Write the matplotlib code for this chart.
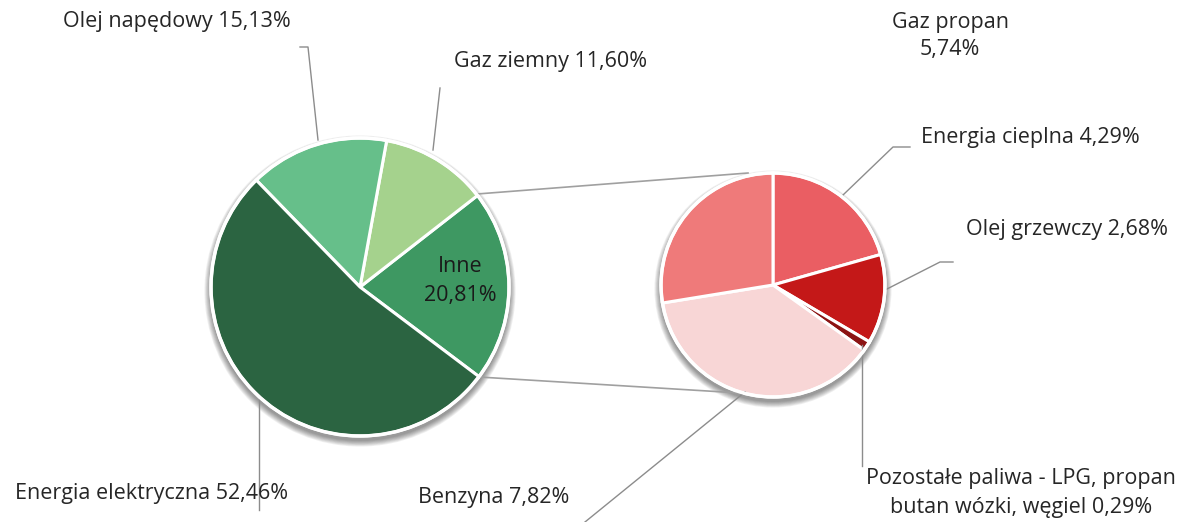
import matplotlib.pyplot as plt
from matplotlib.patches import Circle

# main pie
main_labels = ["Inne", "Gaz ziemny", "Olej napędowy", "Energia elektryczna"]
main_values = [20.81, 11.60, 15.13, 52.46]
main_colors = ["#3E9862", "#A5D28D", "#66BF8A", "#2B6441"]

# breakdown of "Inne"
sub_labels = ["Energia cieplna", "Olej grzewczy",
              "Pozostałe paliwa - LPG, propan\nbutan wózki, węgiel", "Benzyna", "Gaz propan"]
sub_values = [4.29, 2.68, 0.29, 7.82, 5.74]
sub_colors = ["#EA5E63", "#C41818", "#8C1414", "#F8D6D6", "#EF7A7A"]

plt.rcParams['font.family'] = ['Open Sans', 'DejaVu Sans']

W, H = 1187, 522
fig = plt.figure(figsize=(W / 100, H / 100), dpi=100)
ax = fig.add_axes([0, 0, 1, 1])
ax.set_aspect('equal')

c1, r1 = (360, H - 287), 149
c2, r2 = (773, H - 285), 112

# soft shadow under both pies
for c, r in [(c1, r1), (c2, r2)]:
    for i in range(8):
        ax.add_patch(Circle((c[0], c[1] - 4), r + 1 + i * 0.8, color='black',
                            alpha=0.06, lw=0, zorder=0))

wedge_kw = dict(edgecolor='white', linewidth=2.2)
w1, _ = ax.pie(main_values, colors=main_colors, center=c1, radius=r1,
               startangle=-37, counterclock=True, wedgeprops=wedge_kw, frame=True)
w2, _ = ax.pie(sub_values, colors=sub_colors, center=c2, radius=r2,
               startangle=90, counterclock=False, wedgeprops=wedge_kw, frame=True)
ax.set_xlim(0, W)
ax.set_ylim(0, H)
ax.axis('off')
for c, r in [(c1, r1), (c2, r2)]:
    ax.add_patch(Circle(c, r, fill=False, ec='white', lw=2.5, zorder=5))

# connector lines between the pies
lc = '#a0a0a0'
ax.plot([477, 748], [H - 194, H - 173], color=lc, lw=1.2, zorder=1)
ax.plot([479, 740], [H - 377, H - 393], color=lc, lw=1.2, zorder=1)

# leader lines
ll = '#8c8c8c'
ax.plot([300, 308, 318], [H - 47, H - 47, H - 140], color=ll, lw=1)
ax.plot([440, 433], [H - 88, H - 150], color=ll, lw=1)
ax.plot([259, 259], [H - 395, H - 510], color=ll, lw=1)
ax.plot([745, 585], [H - 392, H - 522], color=ll, lw=1)
ax.plot([862, 862], [H - 345, H - 466], color=ll, lw=1)
ax.plot([843, 893, 910], [H - 195, H - 147, H - 147], color=ll, lw=1)
ax.plot([885, 940, 953], [H - 290, H - 262, H - 262], color=ll, lw=1)

def pct(v):
    return f"{v:.2f}%".replace('.', ',')

fs = 15.5
tc = '#262626'
ax.text(177, H - 22, f"{main_labels[2]} {pct(main_values[2])}", ha='center', va='center', fontsize=fs, color=tc)
ax.text(551, H - 62, f"{main_labels[1]} {pct(main_values[1])}", ha='center', va='center', fontsize=fs, color=tc)
ax.text(152, H - 493, f"{main_labels[3]} {pct(main_values[3])}", ha='center', va='center', fontsize=fs, color=tc)
ax.text(460, H - 281, f"{main_labels[0]}\n{pct(main_values[0])}", ha='center', va='center',
        fontsize=fs, color='#1a1a1a', linespacing=1.45)
ax.text(494, H - 497, f"{sub_labels[3]} {pct(sub_values[3])}", ha='center', va='center', fontsize=fs, color=tc)
ax.text(1021, H - 493, f"{sub_labels[2]} {pct(sub_values[2])}", ha='center', va='center',
        fontsize=fs, color=tc, linespacing=1.45)
ax.text(1030, H - 137, f"{sub_labels[0]} {pct(sub_values[0])}", ha='center', va='center', fontsize=fs, color=tc)
ax.text(1067, H - 230, f"{sub_labels[1]} {pct(sub_values[1])}", ha='center', va='center', fontsize=fs, color=tc)
ax.text(950, H - 36, f"{sub_labels[4]}\n{pct(sub_values[4])}", ha='center', va='center',
        fontsize=fs, color=tc, linespacing=1.4)

fig.savefig('out.png', dpi=100, facecolor='white')
